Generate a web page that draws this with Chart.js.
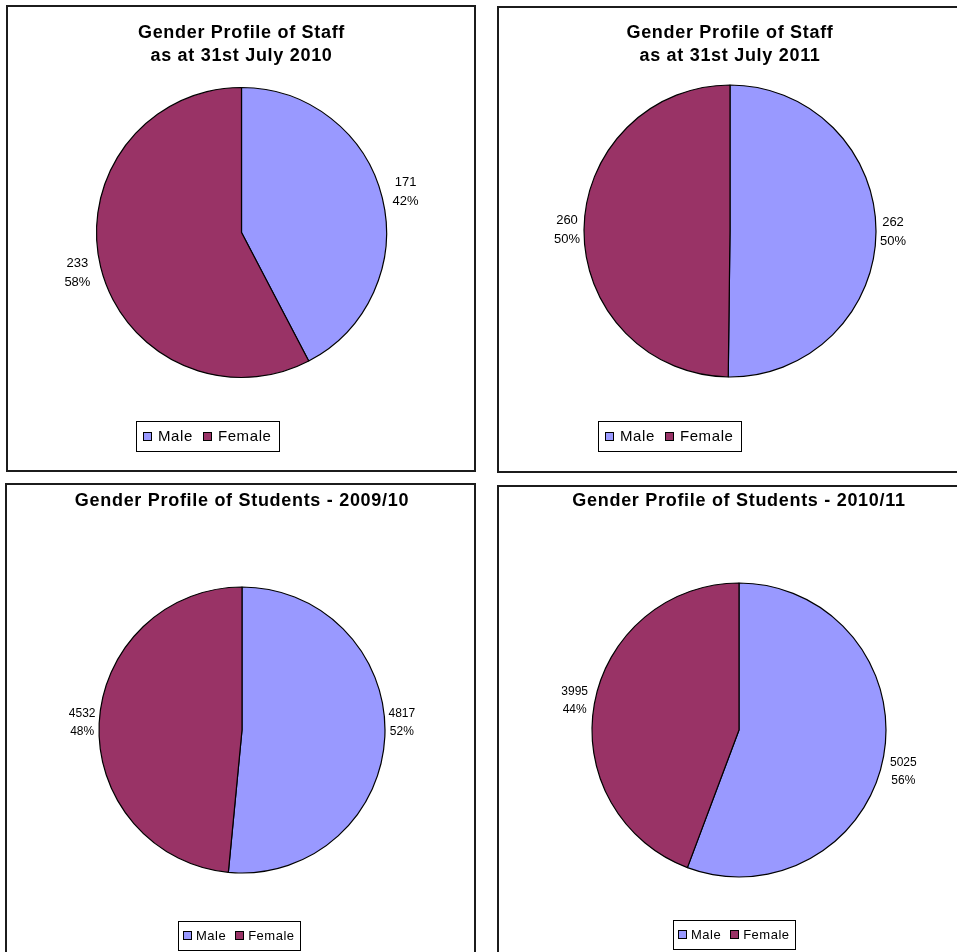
<!DOCTYPE html>
<html><head><meta charset="utf-8">
<script src="https://cdn.jsdelivr.net/npm/chart.js@4.4.1/dist/chart.umd.min.js"></script>
<style>
html,body{margin:0;padding:0;background:#fff;overflow:hidden;width:957px;height:952px;}
.panel{position:absolute;border:2px solid #1c1c1c;box-sizing:border-box;background:#fff;}
.panel canvas{position:absolute;left:0;top:0;}
</style></head><body>
<div class="panel" style="left:6px;top:5px;width:470px;height:467px"><canvas id="cA" width="466" height="463"></canvas></div>
<div class="panel" style="left:497px;top:6px;width:470px;height:467px"><canvas id="cB" width="466" height="463"></canvas></div>
<div class="panel" style="left:5px;top:483px;width:471px;height:472px"><canvas id="cC" width="467" height="468"></canvas></div>
<div class="panel" style="left:497px;top:485px;width:470px;height:470px"><canvas id="cD" width="466" height="466"></canvas></div>
<script>
// ---- data ----
const categories = ['Male', 'Female'];
const staff2010 = [171, 233];
const staff2011 = [262, 260];
const students0910 = [4817, 4532];
const students1011 = [5025, 3995];
const titleA = ['Gender Profile of Staff', 'as at 31st July 2010'];
const titleB = ['Gender Profile of Staff', 'as at 31st July 2011'];
const titleC = 'Gender Profile of Students - 2009/10';
const titleD = 'Gender Profile of Students - 2010/11';
const colours = ['#9999FF', '#993366'];

const FONT = '"Liberation Sans", Arial, Helvetica, sans-serif';

const spacingPlugin = {
  id: 'spacing',
  beforeDraw(chart) { chart.ctx.letterSpacing = '0.7px'; },
  beforeDatasetsDraw(chart) { chart.ctx.letterSpacing = '0px'; }
};

const sliceLabels = {
  id: 'sliceLabels',
  afterDraw(chart, args, o) {
    const ctx = chart.ctx;
    const ds = chart.data.datasets[0];
    const meta = chart.getDatasetMeta(0);
    const total = ds.data.reduce((a, b) => a + b, 0);
    ctx.save();
    ctx.letterSpacing = '0px';
    ctx.font = o.size + 'px ' + FONT;
    ctx.fillStyle = '#000';
    ctx.textAlign = 'center';
    ctx.textBaseline = 'middle';
    meta.data.forEach((arc, i) => {
      const p = arc.getProps(['x', 'y', 'startAngle', 'endAngle', 'outerRadius'], true);
      const mid = (p.startAngle + p.endAngle) / 2;
      const d = p.outerRadius + o.offsets[i];
      const x = p.x + Math.cos(mid) * d + o.nudge[i][0];
      const y = p.y + Math.sin(mid) * d + o.nudge[i][1];
      ctx.fillText(String(ds.data[i]), x, y - o.gap / 2);
      ctx.fillText(Math.round(ds.data[i] / total * 100) + '%', x, y + o.gap / 2);
    });
    ctx.restore();
  }
};

const boxLegend = {
  id: 'boxLegend',
  afterDraw(chart, args, o) {
    const ctx = chart.ctx;
    const ds = chart.data.datasets[0];
    const labels = chart.data.labels;
    ctx.save();
    ctx.font = o.size + 'px ' + FONT;
    ctx.letterSpacing = o.spacing + 'px';
    ctx.textBaseline = 'middle';
    ctx.textAlign = 'left';
    const widths = labels.map(t => ctx.measureText(t).width);
    let total = o.pad * 2;
    widths.forEach((w, i) => { total += o.box + o.gapText + w + (i ? o.gapItem : 0); });
    total = Math.round(total);
    ctx.fillStyle = '#fff';
    ctx.fillRect(o.x, o.y - o.h / 2, total, o.h);
    ctx.strokeStyle = '#000';
    ctx.lineWidth = 1;
    ctx.strokeRect(o.x + 0.5, Math.round(o.y - o.h / 2) + 0.5, total, o.h);
    let x = o.x + o.pad;
    labels.forEach((t, i) => {
      const by = Math.round(o.y - o.box / 2);
      ctx.fillStyle = ds.backgroundColor[i];
      ctx.fillRect(Math.round(x), by, o.box, o.box);
      ctx.strokeRect(Math.round(x) + 0.5, by + 0.5, o.box - 1, o.box - 1);
      x += o.box + o.gapText;
      ctx.fillStyle = '#000';
      ctx.fillText(t, x, o.y + 0.5);
      x += widths[i] + o.gapItem;
    });
    ctx.restore();
  }
};

function makePie(id, values, title, s) {
  return new Chart(document.getElementById(id), {
    type: 'pie',
    data: {
      labels: categories,
      datasets: [{
        data: values,
        backgroundColor: colours,
        borderColor: '#000',
        borderWidth: 1.2,
        hoverOffset: 0
      }]
    },
    options: {
      responsive: false,
      animation: false,
      radius: s.r,
      clip: false,
      events: [],
      layout: { padding: s.pad },
      plugins: {
        legend: { display: false },
        tooltip: { enabled: false },
        title: {
          display: true,
          text: title,
          color: '#000',
          font: { family: FONT, size: 18, weight: 'bold', lineHeight: 1.3 },
          padding: { top: s.titleTop, bottom: 0 }
        },
        sliceLabels: s.labels,
        boxLegend: s.legend
      }
    },
    plugins: [spacingPlugin, sliceLabels, boxLegend]
  });
}

makePie('cA', staff2010, titleA, {
  r: 145, titleTop: 14.4,
  pad: { left: 1, right: 0, top: 0, bottom: 73.2 },
  labels: { size: 13, gap: 19, offsets: [24, 24], nudge: [[0, 0], [0, 0]] },
  legend: { x: 128, y: 429, h: 30, size: 15, spacing: 0.6, box: 9, gapText: 6, gapItem: 10, pad: 7 }
});
makePie('cB', staff2011, titleB, {
  r: 146, titleTop: 13.4,
  pad: { left: 0, right: 4, top: 0, bottom: 77.2 },
  labels: { size: 13, gap: 19, offsets: [17, 17], nudge: [[0, 0], [0, 0]] },
  legend: { x: 99, y: 428, h: 30, size: 15, spacing: 0.6, box: 9, gapText: 6, gapItem: 10, pad: 7 }
});
makePie('cC', students0910, titleC, {
  r: 143, titleTop: 4.8,
  pad: { left: 3, right: 0, top: 0, bottom: 6.2 },
  labels: { size: 12, gap: 18, offsets: [17, 17], nudge: [[0, -15], [0, 0]] },
  legend: { x: 171, y: 450.5, h: 29, size: 13, spacing: 0.5, box: 9, gapText: 4, gapItem: 9, pad: 5 }
});
makePie('cD', students1011, titleD, {
  r: 147, titleTop: 2.8,
  pad: { left: 14, right: 0, top: 0, bottom: 6.2 },
  labels: { size: 12, gap: 18, offsets: [20, 20], nudge: [[0, 12], [0, 0]] },
  legend: { x: 174, y: 447.5, h: 29, size: 13, spacing: 0.5, box: 9, gapText: 4, gapItem: 9, pad: 5 }
});
</script>
</body></html>
